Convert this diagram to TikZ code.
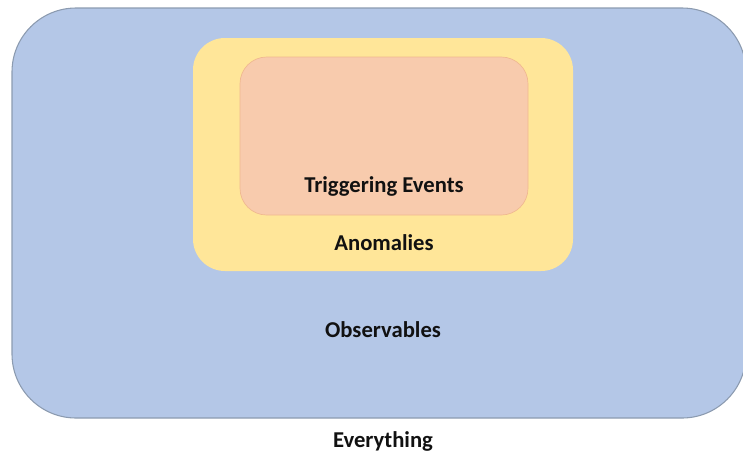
\documentclass[tikz,border=0pt]{standalone}
\usepackage{fontspec}
\setmainfont{Carlito}
\definecolor{bluefill}{HTML}{B4C7E7}
\definecolor{blueedge}{HTML}{8C9BB0}
\definecolor{yellowfill}{HTML}{FFE699}
\definecolor{orangefill}{HTML}{F8CBAD}
\definecolor{orangeedge}{HTML}{F0B890}
\definecolor{textcol}{HTML}{111111}
\tikzset{
  lbl/.style={font=\bfseries\fontsize{17}{19}\selectfont, text=textcol, inner sep=0pt},
}
\begin{document}
\begin{tikzpicture}[x=0.75pt,y=-0.75pt]
\useasboundingbox (0,0) rectangle (743,455);
\begin{scope}
\clip (0,0) rectangle (743,455);
\draw[fill=bluefill, draw=blueedge, line width=0.8pt, rounded corners=48pt] (12,8) rectangle (746,418);
\end{scope}
\fill[yellowfill, rounded corners=24pt] (193,38) rectangle (573,271);
\draw[fill=orangefill, draw=orangeedge, line width=0.5pt, rounded corners=20pt] (240,57) rectangle (528,215);
\node[lbl] (trig) at (384,186) {Triggering Events};
\node[lbl] (anom) at (384,243) {Anomalies};
\node[lbl] (obs) at (383,330) {Observables};
\node[lbl] (every) at (383,441) {Everything};
\end{tikzpicture}
\end{document}
